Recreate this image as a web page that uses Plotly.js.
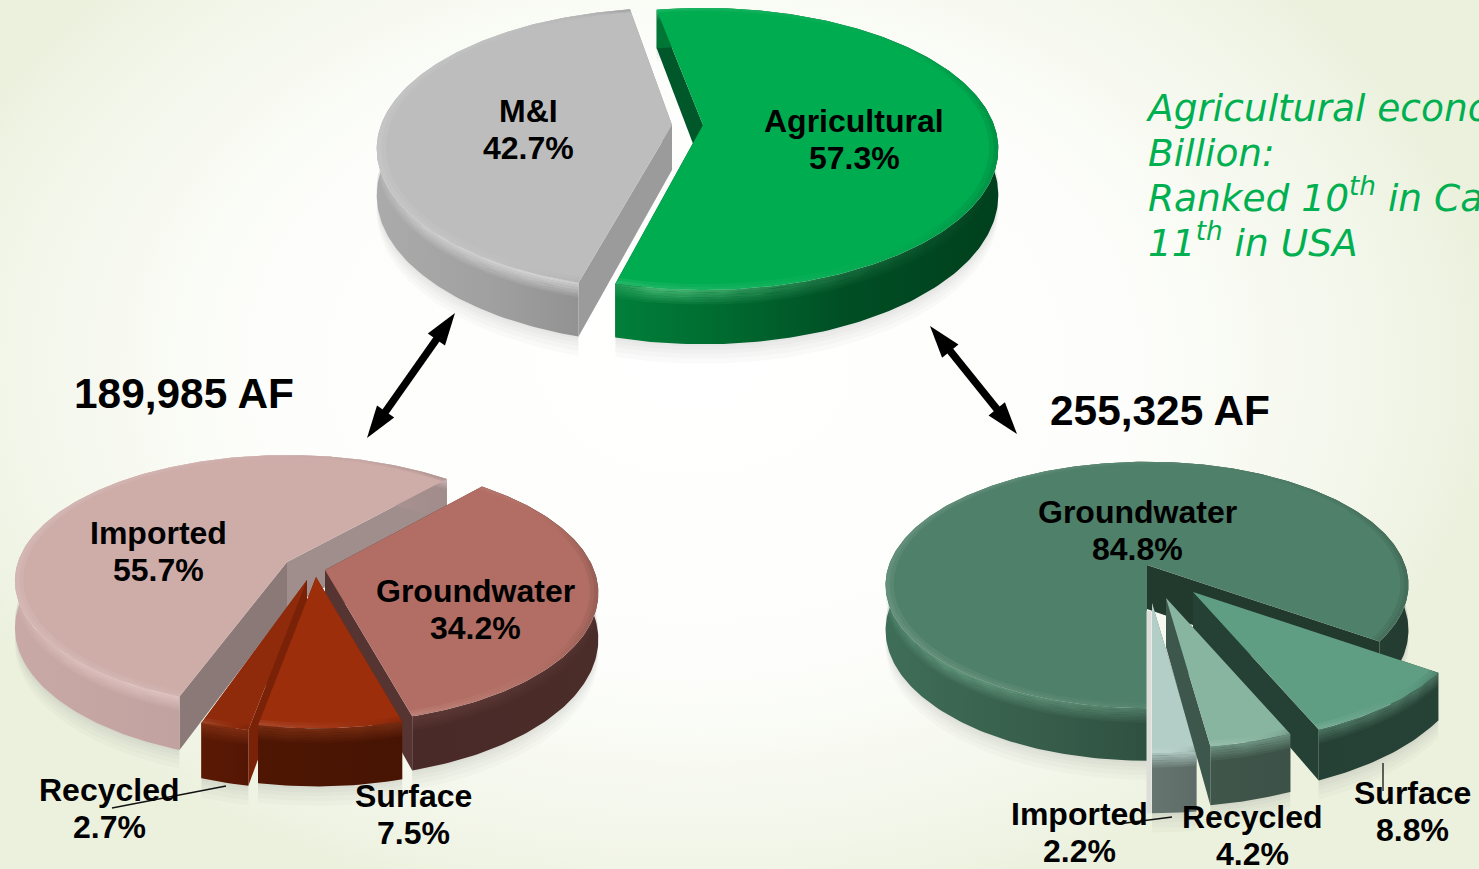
<!DOCTYPE html>
<html>
<head>
<meta charset="utf-8">
<script src="https://cdn.plot.ly/plotly-3.0.1.min.js"></script>
<style>
html,body{margin:0;padding:0;width:1479px;height:869px;overflow:hidden;
background:radial-gradient(ellipse 800px 560px at 47% 42%, #ffffff 0%, #fdfefb 55%, #f3f6ea 85%, #ecf1de 100%);}
#chart{width:1479px;height:869px;}
</style>
</head>
<body>
<div id="chart"></div>
<script>
// ---- Data ----
const useCategories = ['Agricultural', 'M&I'];
const useValues = [57.3, 42.7];
const supply189Categories = ['Groundwater', 'Surface', 'Recycled', 'Imported'];
const supply189Values = [34.2, 7.5, 2.7, 55.7];
const supply255Categories = ['Groundwater', 'Surface', 'Recycled', 'Imported'];
const supply255Values = [84.8, 8.8, 4.2, 2.2];
const totalLeft = '189,985 AF';
const totalRight = '255,325 AF';
const noteLines = ['Agricultural economy', 'Billion:', 'Ranked 10<sup>th</sup> in California', '11<sup>th</sup> in USA'];

// ---- Projection and styling of each pie ----
const pies = [
  {cats: useCategories, vals: useValues, cx: 703, cy: 125, rx: 291, ry: 137, k: 0.17, start: -10.7,
   paint: [1, 0],
   style: [
    {dx: 0, dy: 0, depth: 45, scale: 1, rot: 0, t1: -1, top: '#00AC50', faces: ['#00582A', '#00582A'],
     wall: [[0, '#007F3A'], [0.3, '#00692F'], [0.6, '#004E24'], [1, '#00401D']], hi: [[0, .25], [.12, .55], [.35, .35], [.7, .12], [1, 0]], hc: '120,230,160',
     lx: 854, ly: 121},
    {dx: -31, dy: 0, depth: 45, scale: 1, rot: 0, t1: 1, top: '#BDBDBD', faces: ['#9B9B9B', '#9B9B9B'],
     wall: [[0, '#ABABAB'], [0.45, '#A0A0A0'], [1, '#8A8A8A']], hi: [[0, .12], [.18, .45], [.6, .6], [1, .55]], hc: '245,245,245',
     lx: 528, ly: 111}
   ]},
  {cats: supply189Categories, vals: supply189Values, cx: 287, cy: 562, rx: 269, ry: 126, k: 0.177, start: 41.4,
   paint: [3, 0, 2, 1],
   style: [
    {dx: 38, dy: 8, depth: 45, scale: 1, rot: 0, top: '#B26E64', faces: ['#553431', '#553431'],
     wall: [[0, '#4A2A28'], [1, '#4A2C29']], hi: [[0, .15], [1, .05]], hc: '200,140,130',
     lx: 475, ly: 591},
    {dx: 29, dy: 15, depth: 48, scale: .99, rot: 0, t1: -1, top: '#9C2E0C', faces: ['#7A2207', '#7A2207'],
     wall: [[0, '#4E1603'], [1, '#471403']], hi: [[0, .35], [1, .35]], hc: '190,80,40',
     lx: 413, ly: 796},
    {dx: 20, dy: 18, depth: 46, scale: 1, rot: -2, t0: 1, top: '#8F2A0A', faces: ['#7A2207', '#7A2207'],
     wall: [[0, '#5A1904'], [1, '#541604']], hi: [[0, .35], [1, .35]], hc: '190,80,40',
     lx: 109, ly: 790},
    {dx: 0, dy: 0, depth: 46, scale: 1, rot: 0, t0: -1, k: 0.15, ry: 123, top: '#CEADA9', faces: ['#8B7978', '#A08E8C'],
     wall: [[0, '#C9A9A6'], [0.6, '#BC9E9C'], [1, '#A08C8B']], hi: [[0, .1], [.15, .4], [.6, .6], [1, .5]], hc: '250,225,222',
     lx: 158, ly: 533}
   ]},
  {cats: supply255Categories, vals: supply255Values, cx: 1147, cy: 565, rx: 258, ry: 120, k: 0.162, start: 180,
   paint: [0, 1, 3, 2],
   style: [
    {dx: 0, dy: 0, depth: 44, scale: 1, rot: 0, top: '#4F8069', faces: ['#223A2E', '#223A2E'],
     wall: [[0, '#3F6E58'], [0.35, '#355A48'], [0.6, '#2B4A3B'], [1, '#233B30']], hi: [[0, .2], [.12, .5], [.45, .4], [.8, .05], [1, 0]], hc: '130,190,160',
     lx: 1137, ly: 512},
    {dx: 46, dy: 27, depth: 43, scale: 1.05, rot: 0, top: '#5F9E83', faces: ['#254034', '#254034'],
     wall: [[0, '#254034'], [1, '#264135']], hi: [[0, .4], [1, .35]], hc: '130,190,165',
     lx: 1412, ly: 793},
    {dx: 19, dy: 33, depth: 49, scale: 1.04, rot: 0, top: '#88B5A0', faces: ['#3E574C', '#3E574C'],
     wall: [[0, '#40564B'], [1, '#3C5147']], hi: [[0, .5], [1, .5]], hc: '150,200,178',
     lx: 1252, ly: 817},
    {dx: 5, dy: 38, depth: 50, scale: 1.04, rot: 0, gapShade: '#DDDED9', top: '#B3CEC7', faces: ['#5F6E69', '#5F6E69'],
     wall: [[0, '#667570'], [1, '#5D6C67']], hi: [[0, .8], [1, .8]], hc: '185,212,205',
     lx: 1079, ly: 814}
   ]}
];
const lineGap = 37;

const rad = d => d * Math.PI / 180;
function proj(p, s, deg, rho, z) {
  const t = rad(deg), u = rho * Math.sin(t), v = -rho * Math.cos(t);
  const k = s.k === undefined ? p.k : s.k, ry = s.ry === undefined ? p.ry : s.ry;
  const f = 1 / (1 - k * v);
  return [p.cx + s.dx + p.rx * u * f, p.cy + s.dy + ry * v * f + z * f];
}
function arc(p, s, a0, a1, rho, z) {
  const n = Math.max(2, Math.ceil(Math.abs(a1 - a0)));
  const pts = [];
  for (let i = 0; i <= n; i++) pts.push(proj(p, s, a0 + (a1 - a0) * i / n, rho, z));
  return pts;
}
function poly(pts, color, grad) {
  const tr = {type: 'scatter', mode: 'lines', x: pts.map(q => q[0]), y: pts.map(q => q[1]),
    fill: 'toself', line: {width: 0, color: 'rgba(0,0,0,0)'}, hoverinfo: 'skip', showlegend: false};
  if (grad) tr.fillgradient = {type: 'horizontal', colorscale: grad};
  else tr.fillcolor = color;
  return tr;
}

const traces = [], annotations = [];
pies.forEach(p => {
  const sum = p.vals.reduce((a, b) => a + b, 0);
  let acc = p.start;
  p.slices = p.vals.map((v, i) => {
    const s = p.style[i], a0 = acc + s.rot + (s.t0 || 0), a1 = acc + v / sum * 360 + s.rot + (s.t1 || 0);
    acc += v / sum * 360;
    return {s, a0, a1, label: p.cats[i], value: v};
  });
  // soft ground shadow first
  p.slices.forEach(q => {
    [16, 12, 8, 5, 2].forEach(off => {
      const top = arc(p, q.s, q.a0, q.a1, q.s.scale, q.s.depth - 6);
      const bot = arc(p, q.s, q.a1, q.a0, q.s.scale, q.s.depth + off);
      traces.push(poly(top.concat(bot), 'rgba(80,85,70,0.028)'));
    });
  });
});
const rimGrad = a => [[0, 'rgba(255,255,255,' + (.12 * a) + ')'], [.5, 'rgba(255,255,255,' + (.04 * a) + ')'], [.8, 'rgba(0,0,0,' + (.04 * a) + ')'], [1, 'rgba(0,0,0,' + (.14 * a) + ')']];
pies.forEach(p => {
  p.paint.forEach(idx => {
    const q = p.slices[idx], s = q.s, r = s.scale;
    // pale cast shadow in the gap beside a pulled-out slice
    if (s.gapShade) {
      const e0 = proj(p, s, q.a1, 0, 0), e1 = proj(p, s, q.a1, r, s.depth);
      traces.push({type: 'scatter', mode: 'lines', x: [e0[0] - 3, e1[0] - 3], y: [e0[1] + 8, e1[1]],
        line: {color: s.gapShade, width: 5}, hoverinfo: 'skip', showlegend: false});
    }
    // radial faces
    [[q.a0, 0], [q.a1, 1]].forEach(e => {
      const f = [proj(p, s, e[0], 0, 0), proj(p, s, e[0], r, 0), proj(p, s, e[0], r, s.depth), proj(p, s, e[0], 0, s.depth)];
      traces.push(poly(f, s.faces[e[1]]));
    });
    // outer wall
    const up = arc(p, s, q.a0, q.a1, r, 0), dn = arc(p, s, q.a1, q.a0, r, s.depth);
    traces.push(poly(up.concat(dn), null, s.wall));
    // bevel under the rim
    for (let b = 0; b < 6; b++) {
      const k = 1 - b / 6;
      const ub = arc(p, s, q.a0, q.a1, r, b * 2), db = arc(p, s, q.a1, q.a0, r, (b + 1) * 2);
      traces.push(poly(ub.concat(db), null, s.hi.map(h => [h[0], 'rgba(' + s.hc + ',' + (h[1] * k).toFixed(3) + ')'])));
    }
    // top
    const topPts = [proj(p, s, q.a0, 0, 0)].concat(arc(p, s, q.a0, q.a1, r, 0));
    traces.push(poly(topPts, s.top));
    // soft rim on the top face
    [[.985, 1, 1], [.97, .985, .55]].forEach(b => {
      const o = arc(p, s, q.a0, q.a1, r * b[1], 0), i = arc(p, s, q.a1, q.a0, r * b[0], 0);
      traces.push(poly(o.concat(i), null, rimGrad(b[2])));
    });
    // labels
    const txt = {showarrow: false, xref: 'x', yref: 'y', xanchor: 'center', yanchor: 'middle',
      font: {family: 'Liberation Sans, Arial, sans-serif', size: 32, color: '#000'}};
    annotations.push(Object.assign({}, txt, {x: s.lx, y: s.ly, text: '<b>' + q.label.replace('&', '&amp;') + '</b>'}));
    annotations.push(Object.assign({}, txt, {x: s.lx, y: s.ly + lineGap, text: '<b>' + q.value.toFixed(1) + '%</b>'}));
  });
});

// leader lines
const leaderX = [[226, 112], [1172, 1118], [1383, 1383]];
const leaderY = [[786, 808], [817, 824], [763, 791]];
leaderX.forEach((lx, i) => traces.push({type: 'scatter', mode: 'lines', x: lx, y: leaderY[i],
  line: {color: '#111', width: 1.3}, hoverinfo: 'skip', showlegend: false}));

// double-headed arrows
const arrowsFrom = [[367, 438], [1017, 434]];
const arrowsTo = [[455, 313], [930, 326]];
arrowsFrom.forEach((a, i) => {
  const b = arrowsTo[i], L = Math.hypot(b[0] - a[0], b[1] - a[1]);
  const ux = (b[0] - a[0]) / L, uy = (b[1] - a[1]) / L, cut = 16;
  traces.push({type: 'scatter', mode: 'lines', x: [a[0] + ux * cut, b[0] - ux * cut], y: [a[1] + uy * cut, b[1] - uy * cut],
    line: {color: '#000', width: 7.5}, hoverinfo: 'skip', showlegend: false});
  const deg = Math.atan2(ux, -uy) * 180 / Math.PI;
  traces.push({type: 'scatter', mode: 'markers', x: [b[0], a[0]], y: [b[1], a[1]], hoverinfo: 'skip', showlegend: false,
    marker: {symbol: 'arrow', size: 34, angle: [deg, deg + 180], color: '#000', line: {width: 0}}});
});

// totals
const bigFont = {family: 'Liberation Sans, Arial, sans-serif', size: 42.4, color: '#000'};
annotations.push({x: 184, y: 393.5, xref: 'x', yref: 'y', showarrow: false, text: '<b>' + totalLeft + '</b>', font: bigFont});
annotations.push({x: 1160, y: 410.5, xref: 'x', yref: 'y', showarrow: false, text: '<b>' + totalRight + '</b>', font: bigFont});

// note at upper right, running off the page as in the picture: one block, 45 px line pitch
annotations.push({x: 1144, y: 175.5, xref: 'x', yref: 'y', showarrow: false,
  xanchor: 'left', yanchor: 'middle', align: 'left',
  text: noteLines.map(t => '<i><span style="font-size:37.5px">' + t + '</span></i>').join('<br>'),
  font: {family: 'DejaVu Sans, Verdana, sans-serif', size: 34.6, color: '#00B050'}});

const layout = {
  width: 1479, height: 869, margin: {l: 0, r: 0, t: 0, b: 0},
  paper_bgcolor: 'rgba(0,0,0,0)', plot_bgcolor: 'rgba(0,0,0,0)', showlegend: false, dragmode: false,
  xaxis: {range: [0, 1479], visible: false, fixedrange: true},
  yaxis: {range: [869, 0], visible: false, fixedrange: true},
  annotations
};
Plotly.newPlot('chart', traces, layout, {displayModeBar: false, staticPlot: true});
</script>
</body>
</html>
